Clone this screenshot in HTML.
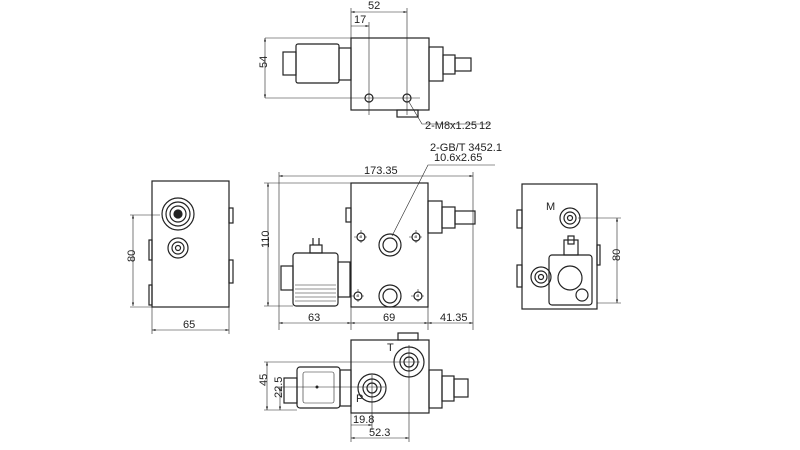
<!DOCTYPE html>
<html><head><meta charset="utf-8"><style>
html,body{margin:0;padding:0;background:#fff;}
svg{display:block;}
text{font-family:"Liberation Sans",sans-serif;font-size:11px;fill:#222;}
</style></head><body>
<svg width="800" height="450" viewBox="0 0 800 450" xmlns="http://www.w3.org/2000/svg">
<defs>
<marker id="a" viewBox="0 0 10 10" refX="10" refY="5" markerWidth="6" markerHeight="6" orient="auto-start-reverse"><path d="M0,2 L10,5 L0,8z" fill="#222"/></marker>
</defs>
<g fill="none" stroke="#222" stroke-width="1.2">
<!-- TOP VIEW -->
<rect x="351" y="38" width="78" height="72"/>
<rect x="397" y="110" width="21" height="7"/>
<rect x="296" y="44" width="43" height="39" rx="2"/>
<rect x="283" y="52" width="13" height="23"/>
<rect x="339" y="48" width="12" height="32"/>
<rect x="429" y="47" width="14" height="34"/>
<rect x="443" y="55" width="12" height="19"/>
<rect x="455" y="58" width="16" height="13"/>
<circle cx="369" cy="98" r="4"/><circle cx="407" cy="98" r="4"/>
<g stroke-width="0.6"><line x1="265" y1="38" x2="351" y2="38"/><line x1="265" y1="98" x2="420" y2="98"/>
<line x1="351" y1="8" x2="351" y2="38"/><line x1="407" y1="8" x2="407" y2="115"/><line x1="369" y1="22" x2="369" y2="115"/>
<line x1="351" y1="12" x2="407" y2="12" marker-start="url(#a)" marker-end="url(#a)"/>
<line x1="351" y1="26" x2="369" y2="26" marker-end="url(#a)"/>
<line x1="265" y1="38" x2="265" y2="98" marker-start="url(#a)" marker-end="url(#a)"/>
<polyline points="409,102 422,124 490,124"/></g>

<!-- FRONT VIEW -->
<rect x="351" y="183" width="77" height="124"/>
<rect x="346" y="208" width="5" height="14"/>
<rect x="293" y="253" width="45" height="53" rx="3"/>
<g stroke-width="0.6"><line x1="295" y1="285" x2="336" y2="285"/><line x1="295" y1="289" x2="336" y2="289"/><line x1="295" y1="293" x2="336" y2="293"/><line x1="295" y1="297" x2="336" y2="297"/><line x1="295" y1="301" x2="336" y2="301"/></g>
<rect x="310" y="245" width="12" height="8"/><line x1="313" y1="245" x2="313" y2="238"/><line x1="319" y1="245" x2="319" y2="238"/>
<rect x="281" y="266" width="12" height="24"/>
<rect x="338" y="262" width="12" height="35"/>
<rect x="428" y="201" width="14" height="32"/>
<rect x="442" y="207" width="13" height="21"/>
<rect x="455" y="211" width="20" height="13"/>
<circle cx="390" cy="245" r="11"/><circle cx="390" cy="245" r="7"/>
<circle cx="390" cy="296" r="11"/><circle cx="390" cy="296" r="7"/>
<circle cx="361" cy="237" r="4"/><circle cx="416" cy="237" r="4"/>
<circle cx="358" cy="296" r="4"/><circle cx="418" cy="296" r="4"/>
<g stroke-width="0.6" stroke-dasharray="3,2">
<line x1="354" y1="237" x2="368" y2="237"/><line x1="361" y1="230" x2="361" y2="244"/>
<line x1="409" y1="237" x2="423" y2="237"/><line x1="416" y1="230" x2="416" y2="244"/>
<line x1="351" y1="296" x2="365" y2="296"/><line x1="358" y1="289" x2="358" y2="303"/>
<line x1="411" y1="296" x2="425" y2="296"/><line x1="418" y1="289" x2="418" y2="303"/>
</g>
<g stroke-width="0.6">
<line x1="279" y1="172" x2="279" y2="330"/><line x1="473" y1="172" x2="473" y2="330"/>
<line x1="351" y1="305" x2="351" y2="330"/><line x1="428" y1="305" x2="428" y2="330"/>
<line x1="279" y1="176" x2="473" y2="176" marker-start="url(#a)" marker-end="url(#a)"/>
<line x1="264" y1="183" x2="351" y2="183"/><line x1="264" y1="306" x2="293" y2="306"/>
<line x1="268" y1="183" x2="268" y2="306" marker-start="url(#a)" marker-end="url(#a)"/>
<line x1="279" y1="323" x2="351" y2="323" marker-start="url(#a)" marker-end="url(#a)"/>
<line x1="351" y1="323" x2="428" y2="323" marker-start="url(#a)" marker-end="url(#a)"/>
<line x1="428" y1="323" x2="473" y2="323" marker-start="url(#a)" marker-end="url(#a)"/>
<polyline points="392,236 428,165 495,165"/></g>

<!-- LEFT VIEW -->
<rect x="152" y="181" width="77" height="126"/>
<rect x="229" y="208" width="4" height="15"/><rect x="229" y="260" width="4" height="23"/>
<rect x="149" y="240" width="3" height="20"/><rect x="149" y="285" width="3" height="20"/>
<circle cx="178" cy="214" r="16"/><circle cx="178" cy="214" r="12"/><circle cx="178" cy="214" r="8"/>
<circle cx="178" cy="214" r="4" fill="#222"/>
<circle cx="178" cy="248" r="10"/><circle cx="178" cy="248" r="6"/><circle cx="178" cy="248" r="2.5"/>
<g stroke-width="0.6">
<line x1="130" y1="215" x2="160" y2="215"/><line x1="130" y1="307" x2="152" y2="307"/>
<line x1="133" y1="215" x2="133" y2="306" marker-start="url(#a)" marker-end="url(#a)"/>
<line x1="152" y1="307" x2="152" y2="334"/><line x1="229" y1="307" x2="229" y2="334"/>
<line x1="152" y1="330" x2="229" y2="330" marker-start="url(#a)" marker-end="url(#a)"/></g>

<!-- RIGHT VIEW -->
<rect x="522" y="184" width="75" height="125"/>
<rect x="517" y="210" width="5" height="18"/><rect x="517" y="265" width="5" height="22"/>
<rect x="597" y="245" width="3" height="20"/>
<circle cx="570" cy="218" r="10"/><circle cx="570" cy="218" r="6"/><circle cx="570" cy="218" r="2.5"/>
<circle cx="541" cy="277" r="10"/><circle cx="541" cy="277" r="6"/><circle cx="541" cy="277" r="2.5"/>
<rect x="549" y="255" width="43" height="50" rx="3"/>
<circle cx="570" cy="278" r="12"/><circle cx="582" cy="295" r="6"/>
<rect x="564" y="240" width="14" height="15"/><rect x="568" y="236" width="6" height="8"/>
<g stroke-width="0.6">
<line x1="578" y1="218" x2="621" y2="218"/><line x1="597" y1="303" x2="621" y2="303"/>
<line x1="617" y1="218" x2="617" y2="303" marker-start="url(#a)" marker-end="url(#a)"/></g>

<!-- BOTTOM VIEW -->
<rect x="351" y="340" width="78" height="73"/>
<rect x="398" y="333" width="20" height="7"/>
<circle cx="409" cy="362" r="15"/><circle cx="409" cy="362" r="9"/><circle cx="409" cy="362" r="5"/>
<circle cx="372" cy="388" r="14"/><circle cx="372" cy="388" r="9"/><circle cx="372" cy="388" r="5"/>
<rect x="297" y="367" width="43" height="41" rx="3"/>
<rect x="303" y="372" width="31" height="31" rx="2" stroke-width="0.6"/>
<rect x="284" y="378" width="13" height="25"/>
<rect x="340" y="370" width="11" height="36"/>
<rect x="429" y="370" width="13" height="38"/>
<rect x="442" y="376" width="12" height="25"/>
<rect x="454" y="379" width="14" height="18"/>
<g stroke-width="0.6">
<line x1="264" y1="362" x2="420" y2="362"/><line x1="264" y1="410" x2="297" y2="410"/>
<line x1="276" y1="387" x2="385" y2="387"/>
<line x1="267" y1="362" x2="267" y2="410" marker-start="url(#a)" marker-end="url(#a)"/>
<line x1="280" y1="387" x2="280" y2="410" marker-start="url(#a)" marker-end="url(#a)"/>
<line x1="351" y1="413" x2="351" y2="442"/><line x1="372" y1="375" x2="372" y2="430"/><line x1="409" y1="345" x2="409" y2="442"/>
<line x1="351" y1="425" x2="372" y2="425" marker-end="url(#a)"/>
<line x1="351" y1="438" x2="409" y2="438" marker-start="url(#a)" marker-end="url(#a)"/></g>
</g>
<circle cx="317" cy="387" r="1.5" fill="#222"/>
<!-- TEXT -->
<text x="368" y="9">52</text>
<text x="354" y="23">17</text>
<text x="260" y="75" transform="rotate(-90 260 68)">54</text>
<text x="425" y="129">2-M8x1.25</text><text x="479" y="129">12</text>
<text x="430" y="151">2-GB/T 3452.1</text>
<text x="434" y="161">10.6x2.65</text>
<text x="364" y="174">173.35</text>
<text x="262" y="255" transform="rotate(-90 262 248)">110</text>
<text x="308" y="321">63</text>
<text x="383" y="321">69</text>
<text x="440" y="321">41.35</text>
<text x="129" y="268" transform="rotate(-90 129 262)">80</text>
<text x="183" y="328">65</text>
<text x="546" y="210">M</text>
<text x="614" y="267" transform="rotate(-90 614 261)">80</text>
<text x="387" y="351">T</text>
<text x="356" y="402">P</text>
<text x="261" y="392" transform="rotate(-90 261 386)">45</text>
<text x="276" y="404" transform="rotate(-90 276 398)">22.5</text>
<text x="353" y="423">19.8</text>
<text x="369" y="436">52.3</text>
</svg>
</body></html>
